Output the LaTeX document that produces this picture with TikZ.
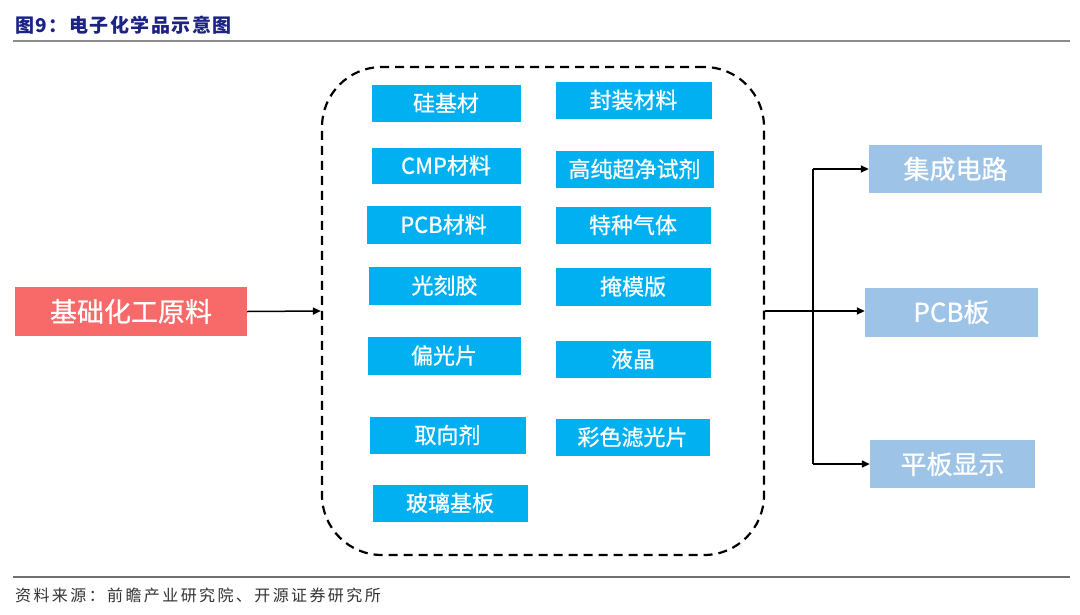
\documentclass[tikz,border=0pt]{standalone}
\usepackage{fontspec}
\setmainfont{Noto Sans CJK SC}
\newfontfamily\cjk[FakeBold=0.8]{Noto Sans CJK SC}
\newfontfamily\cjktitle[LetterSpace=8]{Noto Sans CJK SC}
\newfontfamily\cjkfoot[LetterSpace=15]{Noto Sans CJK SC}
\usetikzlibrary{arrows.meta}
\definecolor{cyanbox}{HTML}{00B0F0}
\definecolor{redbox}{HTML}{F86A6A}
\definecolor{bluebox}{HTML}{9DC3E6}
\definecolor{titleblue}{HTML}{1C2385}
\definecolor{rulegray}{HTML}{8C8C8C}
\begin{document}
\begin{tikzpicture}[x=1pt,y=-1pt,
  inbox/.style={fill=cyanbox, draw=white, line width=0.6pt, text=white, inner sep=0pt,
    font=\cjk\fontsize{22}{24}\selectfont},
  srcbox/.style={fill=redbox, text=white, inner sep=0pt, font=\cjk\fontsize{27}{29}\selectfont},
  outbox/.style={fill=bluebox, text=white, inner sep=0pt, font=\cjk\fontsize{26}{28}\selectfont},
  grpbox/.style={draw=black, line width=2.2pt, dash pattern=on 9pt off 6pt, rounded corners=60pt, inner sep=0pt},
  conn/.style={draw=black, line width=1.5pt},
  arr/.style={conn, -{Triangle[length=8pt,width=7pt]}}]
\useasboundingbox (0,0) rectangle (1080,614);
\fill[white] (0,0) rectangle (1080,614);
% title and rules
\node[anchor=west, inner sep=0pt, text=titleblue, font=\cjktitle\bfseries\fontsize{19}{21}\selectfont] (title) at (15,25) {图9：电子化学品示意图};
\draw[rulegray, line width=2.5pt] (13,41) -- (1070,41);
\draw[rulegray!80!black, line width=1.3pt] (13,577) -- (1070,577);
\node[anchor=west, inner sep=0pt, text=black!80, font=\cjkfoot\fontsize{16}{18}\selectfont] (src) at (15,595) {资料来源：前瞻产业研究院、开源证券研究所};
% group box
\node[grpbox, minimum width=442pt, minimum height=488pt] (grp) at (543,311) {};
% left column
\node[inbox, minimum width=150pt, minimum height=38pt] (a1) at (446,103) {硅基材};
\node[inbox, minimum width=150pt, minimum height=37pt] (a2) at (446,165.5) {CMP材料};
\node[inbox, minimum width=155pt, minimum height=39pt] (a3) at (443.5,224.5) {PCB材料};
\node[inbox, minimum width=153pt, minimum height=39pt] (a4) at (444.5,285.5) {光刻胶};
\node[inbox, minimum width=154pt, minimum height=39pt] (a5) at (444,355.5) {偏光片};
\node[inbox, minimum width=157pt, minimum height=38pt] (a6) at (447.5,435) {取向剂};
\node[inbox, minimum width=156pt, minimum height=38pt] (a7) at (450,503) {玻璃基板};
% right column
\node[inbox, minimum width=157pt, minimum height=38pt] (b1) at (633.5,100) {封装材料};
\node[inbox, minimum width=159pt, minimum height=38pt] (b2) at (634.5,169) {高纯超净试剂};
\node[inbox, minimum width=156pt, minimum height=38pt] (b3) at (633,225) {特种气体};
\node[inbox, minimum width=156pt, minimum height=39pt] (b4) at (633,286.5) {掩模版};
\node[inbox, minimum width=156pt, minimum height=38pt] (b5) at (633,359) {液晶};
\node[inbox, minimum width=155pt, minimum height=38pt] (b6) at (632.5,437) {彩色滤光片};
% source
\node[srcbox, minimum width=232pt, minimum height=49pt] (src1) at (131,311.5) {基础化工原料};
% outputs
\node[outbox, minimum width=173pt, minimum height=48pt] (r1) at (955.5,169) {集成电路};
\node[outbox, minimum width=173pt, minimum height=49pt] (r2) at (951.5,312) {PCB板};
\node[outbox, minimum width=165pt, minimum height=48pt] (r3) at (952.5,464) {平板显示};
% connectors
\draw[arr] (src1.east) -- (grp.west);
\draw[arr] (grp.east) -- (grp.east -| r2.west);
\coordinate (j1) at (813,169);
\coordinate (j3) at (813,464);
\draw[conn] (j1) -- (j3);
\draw[arr] (j1) -- (r1.west);
\draw[arr] (j3) -- (r3.west);
\end{tikzpicture}
\end{document}
